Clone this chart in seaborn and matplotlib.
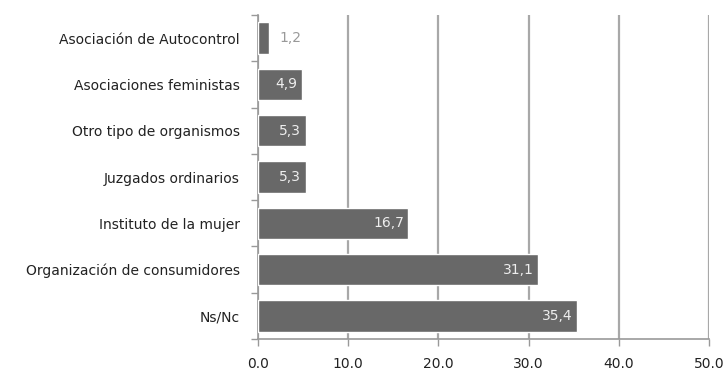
import matplotlib
matplotlib.use("Agg")
import matplotlib.pyplot as plt
import seaborn as sns
import pandas as pd
import numpy as np

categories = [
    "Asociación de Autocontrol",
    "Asociaciones feministas",
    "Otro tipo de organismos",
    "Juzgados ordinarios",
    "Instituto de la mujer",
    "Organización de consumidores",
    "Ns/Nc",
]
values = [1.2, 4.9, 5.3, 5.3, 16.7, 31.1, 35.4]
x_ticks = [0, 10, 20, 30, 40, 50]

df = pd.DataFrame({"cat": categories, "val": values})

sns.set_theme(style="white")
plt.rcParams["font.family"] = ["DejaVu Sans"]

fig = plt.figure(figsize=(7.28, 3.75), dpi=100)
ax = fig.add_axes([0.354, 0.096, 0.62, 0.864])

sns.barplot(data=df, y="cat", x="val", orient="h", color="#686868",
            saturation=1, width=0.68, ax=ax, zorder=3)

ax.set_xlim(0, 50)
ax.set_ylim(len(categories) - 0.5, -0.5)
ax.set_xticks(x_ticks)
ax.set_xticklabels([f"{t:.1f}" for t in x_ticks], fontsize=10, color="#222222")
ax.set_xlabel("")
ax.set_ylabel("")

# category labels at bar centres, tick marks at the boundaries between them
ax.tick_params(axis="y", which="major", length=0, pad=13, labelsize=10,
               labelcolor="#222222")
ax.set_yticks(np.arange(-0.5, len(categories), 1.0), minor=True)
ax.tick_params(axis="y", which="minor", length=5, width=1, color="#999999",
               direction="out", left=True)
ax.tick_params(axis="x", which="major", length=5, width=1, color="#999999",
               direction="out", bottom=True, pad=8)

ax.grid(axis="x", color="#a8a8a8", linewidth=1.6, zorder=0)
ax.set_axisbelow(True)
for side in ("top", "right"):
    ax.spines[side].set_visible(False)
for side in ("left", "bottom"):
    ax.spines[side].set_color("#999999")
    ax.spines[side].set_linewidth(1.2)

for i, v in enumerate(values):
    label = f"{v:.1f}".replace(".", ",")
    if v < 3:
        ax.text(v + 1.2, i, label, ha="left", va="center", fontsize=10,
                color="#999999")
    else:
        ax.text(v - 0.5, i, label, ha="right", va="center", fontsize=10,
                color="#eeeeee")

fig.savefig("out.png", dpi=100)
